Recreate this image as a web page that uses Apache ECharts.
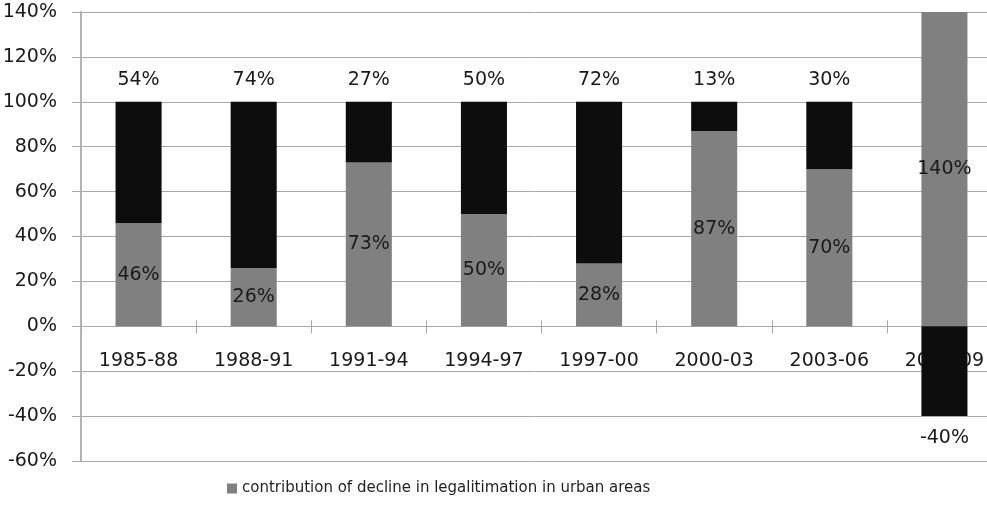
<!DOCTYPE html>
<html>
<head>
<meta charset="utf-8">
<script src="https://cdn.jsdelivr.net/npm/echarts@6/dist/echarts.min.js"></script>
<style>
  html, body { margin: 0; padding: 0; background: #ffffff; }
  #chart { width: 987px; height: 510px; }
</style>
</head>
<body>
<div id="chart"></div>
<script>
// Periods on the category axis
const periods = ['1985-88', '1988-91', '1991-94', '1994-97', '1997-00', '2000-03', '2003-06', '2006-09'];
// Share due to decline in legalitimation in urban areas (%)
const urbanShare = [46, 26, 73, 50, 28, 87, 70, 140];
// Remaining share (%)
const otherShare = [54, 74, 27, 50, 72, 13, 30, -40];
// Value axis range and step (%)
const yMin = -60;
const yMax = 140;
const yStep = 20;

const FONT = 'DejaVu Sans';
const GRID_COLOR = '#a9a9a9';
const GRID_TOP = 12;
const GRID_BOTTOM = 49;
const PLOT_H = 510 - GRID_TOP - GRID_BOTTOM;
// distances from the plot edges to the zero line
const zeroFromTop = PLOT_H * yMax / (yMax - yMin);
const zeroFromBottom = PLOT_H - zeroFromTop;

const chart = echarts.init(document.getElementById('chart'), null, { renderer: 'canvas' });

chart.setOption({
  backgroundColor: '#ffffff',
  animation: false,
  grid: {
    left: 81, right: -15, top: GRID_TOP, bottom: GRID_BOTTOM,
    containLabel: false, outerBoundsMode: 'none'
  },
  legend: {
    data: ['contribution of decline in legalitimation in urban areas'],
    left: 227,
    top: 481,
    padding: 0,
    itemWidth: 10,
    itemHeight: 10,
    itemGap: 10,
    icon: 'rect',
    textStyle: { fontFamily: FONT, fontSize: 15, color: '#1f1f1f' }
  },
  xAxis: [
    {
      // category axis drawn along the zero line
      type: 'category',
      data: periods,
      position: 'bottom',
      offset: -zeroFromBottom,
      axisLine: { show: true, onZero: false, lineStyle: { color: GRID_COLOR, width: 1 } },
      axisTick: { show: true, length: 7, lineStyle: { color: GRID_COLOR, width: 1 } },
      axisLabel: { margin: 25, fontFamily: FONT, fontSize: 19, color: '#1a1a1a' },
      z: 0
    },
    {
      // upper half of the crossing tick marks on the zero line
      type: 'category',
      data: periods,
      position: 'top',
      offset: -zeroFromTop,
      axisLine: { show: false, onZero: false },
      axisTick: { show: true, length: 6, lineStyle: { color: GRID_COLOR, width: 1 } },
      axisLabel: { show: false },
      z: 0
    }
  ],
  yAxis: {
    type: 'value',
    min: yMin,
    max: yMax,
    interval: yStep,
    axisLine: { show: true, lineStyle: { color: '#b3b3b3', width: 2 } },
    axisTick: { show: true, length: 9, lineStyle: { color: GRID_COLOR, width: 1 } },
    splitLine: { show: true, lineStyle: { color: GRID_COLOR, width: 1 } },
    axisLabel: {
      margin: 24,
      fontFamily: FONT,
      fontSize: 19,
      color: '#1a1a1a',
      formatter: '{value}%'
    }
  },
  series: [
    {
      name: 'contribution of decline in legalitimation in urban areas',
      type: 'bar',
      stack: 'total',
      barWidth: '40%',
      data: urbanShare,
      itemStyle: { color: '#808080' },
      label: {
        show: true,
        position: 'inside',
        formatter: '{c}%',
        fontFamily: FONT,
        fontSize: 19,
        color: '#1a1a1a'
      },
      z: 2
    },
    {
      name: 'other',
      type: 'bar',
      stack: 'total',
      barWidth: '40%',
      data: otherShare.map(v => ({
        value: v,
        label: { position: v < 0 ? 'bottom' : 'top' }
      })),
      itemStyle: { color: '#0d0d0d' },
      label: {
        show: true,
        distance: 12,
        formatter: '{c}%',
        fontFamily: FONT,
        fontSize: 19,
        color: '#1a1a1a'
      },
      z: 2
    }
  ]
});
</script>
</body>
</html>
